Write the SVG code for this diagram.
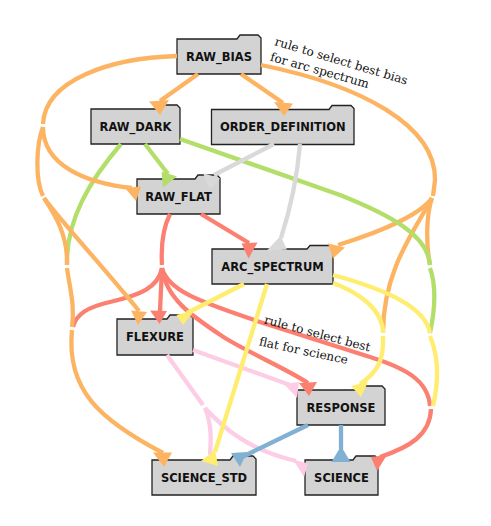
<svg xmlns="http://www.w3.org/2000/svg" width="491" height="526" viewBox="0 0 491 526">
<style>
.node path{fill:#d3d3d3;stroke:#222;stroke-width:1.3}
.node text{font-family:"DejaVu Sans",Verdana,sans-serif;font-weight:bold;font-size:11.5px;fill:#111;text-anchor:middle}
.e{fill:none;stroke-width:4.3;stroke-linecap:butt}
.or{stroke:#fdb462}.orf{fill:#fdb462}
.gr{stroke:#b3de69}.grf{fill:#b3de69}
.gy{stroke:#d9d9d9}.gyf{fill:#d9d9d9}
.sa{stroke:#fb8072}.saf{fill:#fb8072}
.ye{stroke:#ffed6f}.yef{fill:#ffed6f}
.pk{stroke:#fccde5}.pkf{fill:#fccde5}
.bl{stroke:#80b1d3}.blf{fill:#80b1d3}
.lbl{font-family:"DejaVu Serif","Liberation Serif",serif;font-size:12px;fill:#111}
</style>
<rect width="491" height="526" fill="#fff"/>
<g id="nodes">
<g id="RAW_BIAS" class="node"><path d="M177,39 H237 L240,35 H258 L261,38 V74 H177 Z"/><text x="219" y="60.7">RAW_BIAS</text></g>
<g id="RAW_DARK" class="node"><path d="M91,109 H156 L159,105 H177 L180,108 V144 H91 Z"/><text x="135.5" y="130.7">RAW_DARK</text></g>
<g id="ORDER_DEFINITION" class="node"><path d="M211.5,109.5 H329 L332,105.5 H351 L354,108.5 V144.5 H211.5 Z"/><text x="282.8" y="131.2">ORDER_DEFINITION</text></g>
<g id="RAW_FLAT" class="node"><path d="M137,179 H195 L198,175 H217 L220,178 V214 H137 Z"/><text x="178.5" y="200.7">RAW_FLAT</text></g>
<g id="ARC_SPECTRUM" class="node"><path d="M212,249 H307 L310,245.5 H330 L333,248 V284 H212 Z"/><text x="272.5" y="270.7">ARC_SPECTRUM</text></g>
<g id="FLEXURE" class="node"><path d="M117,319 H167 L170,315 H190 L193,318 V355 H117 Z"/><text x="155" y="341.2">FLEXURE</text></g>
<g id="RESPONSE" class="node"><path d="M297,390 H360 L363,386 H382 L385,389 V425 H297 Z"/><text x="341" y="411.7">RESPONSE</text></g>
<g id="SCIENCE_STD" class="node"><path d="M152,460 H230 L233,456 H253 L256,459 V495 H152 Z"/><text x="204" y="481.7">SCIENCE_STD</text></g>
<g id="SCIENCE" class="node"><path d="M305,460 H353 L356,456 H375 L378,459 V495 H305 Z"/><text x="341.5" y="481.7">SCIENCE</text></g>
</g>
<g id="connectors">
<path class="e or" d="M261,65 C360,85 436,125 435,180 L433,196"/>
<path class="e or" d="M432,198 C420,215 380,232 338,245"/>
<polygon class="orf" points="328,243.5 345,247.5 333,258.5"/>
<path class="e or" d="M432,198 C415,230 383,270 383,333"/>
<path class="e or" d="M432,198 C426,215 426,245 430,265"/>
<path class="e sa" d="M201,214 L249,243"/>
<polygon class="saf" points="241.5,243.5 257.5,242.5 248.5,258.5"/>
<path class="e sa" d="M170,214 C162,230 161,248 162,265"/>
<path class="e sa" d="M162,268 L160,311"/>
<polygon class="saf" points="150,310.5 167,311 159.5,324"/>
<path class="e sa" d="M162,268 C158,288 140,295 110,302 C88,307 76,314 73,327"/>
<path class="e sa" d="M162,268 C166,300 195,318 225,338 C255,356 285,368 308,383"/>
<polygon class="saf" points="299,383 317,382 309,396"/>
<path class="e sa" d="M162,268 C168,292 205,303 260,322 L370,357 C405,368 428,380 430,406"/>
<path class="e sa" d="M431,409 C430,435 410,447 380,457"/>
<polygon class="saf" points="371,457 387,455 377,471"/>
<path class="e gr" d="M145,144 L168,174"/>
<polygon class="grf" points="161.5,171.5 177,176.5 163,187.5"/>
<path class="e gr" d="M121,144 C90,180 66,220 67,265"/>
<path class="e gr" d="M180,139 L340,195 C390,215 428,235 430,265"/>
<path class="e gr" d="M430,268 C436,285 436,305 430,333"/>
<path class="e gy" d="M274,144 L214,175"/>
<polygon class="gyf" points="203,173 220,178.5 209.5,189"/>
<path class="e gy" d="M300,144 C297,180 290,210 281,238"/>
<polygon class="gyf" points="280.5,236 266.5,251 287,249.5"/>
<path class="e or" d="M198,74 L160,101"/>
<polygon class="orf" points="149,101.5 169,100 160,115"/>
<path class="e or" d="M241,74 L283,103"/>
<polygon class="orf" points="274,102 293,103.5 284,116"/>
<path class="e or" d="M177,56 C110,58 45,80 43,124"/>
<path class="e or" d="M43,127 C43,165 85,183 132,188"/>
<polygon class="orf" points="125,188 141,186.5 136,201"/>
<path class="e or" d="M43,127 C36,145 35,180 43,196"/>
<path class="e or" d="M44,198 C60,220 110,275 139,311"/>
<polygon class="orf" points="131,310.5 147,312 138,325"/>
<path class="e or" d="M44,198 C55,215 68,235 67,265"/>
<path class="e or" d="M67,268 C70,290 75,305 72,327"/>
<path class="e or" d="M72,330 C66,390 100,420 163,453"/>
<polygon class="orf" points="153,452.5 172,452.5 164,467"/>
<path class="e ye" d="M244,284 L187,313"/>
<polygon class="yef" points="176.5,315 195,310 183,325"/>
<path class="e ye" d="M333,275 C380,288 425,305 430,333"/>
<path class="e ye" d="M333,283 C360,293 383,310 383,333"/>
<path class="e ye" d="M383,336 C384,360 378,372 360,384"/>
<polygon class="yef" points="351,386 368,382 361,397"/>
<path class="e ye" d="M430,336 C440,360 438,385 433,406"/>
<path class="e pk" d="M193,350 L290,385"/>
<polygon class="pkf" points="284,384 299,382 297,398"/>
<path class="e pk" d="M167,355 L203,405"/>
<path class="e pk" d="M205,408 C212,425 211,440 210,455"/>
<path class="e pk" d="M205,408 C225,430 250,450 296,461"/>
<polygon class="pkf" points="293,459.5 308,463.5 304,477"/>
<path class="e ye" d="M267,284 L215,452"/>
<polygon class="yef" points="215,450 201,461 218,466"/>
<path class="e bl" d="M308,425 L240,458"/>
<polygon class="blf" points="231,453 247,452 240,467"/>
<path class="e bl" d="M341,425 L341,449"/>
<polygon class="blf" points="341,446 331.5,462 350.5,462"/>
</g>
<g id="labels">
<text class="lbl" transform="translate(274,45) rotate(16.7)">rule to select best bias</text>
<text class="lbl" transform="translate(269.5,60.5) rotate(15.7)">for arc spectrum</text>
<text class="lbl" transform="translate(263.5,323.3) rotate(15)">rule to select best</text>
<text class="lbl" transform="translate(258.5,345.3) rotate(12)">flat for science</text>
</g>
</svg>
